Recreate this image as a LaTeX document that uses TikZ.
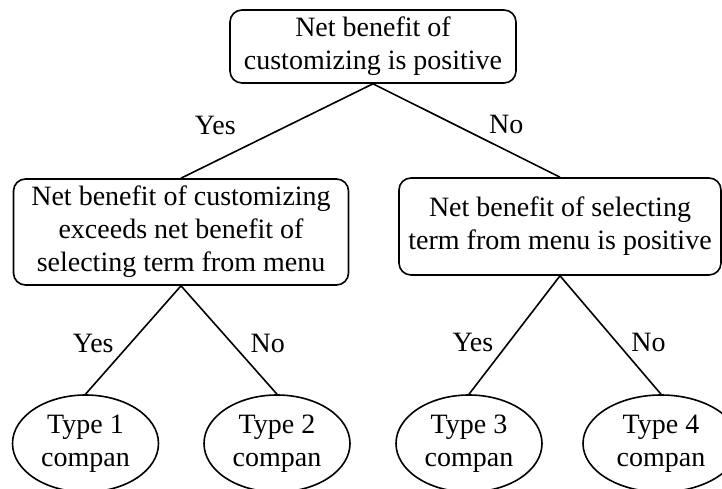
\documentclass[tikz,border=0pt]{standalone}
\usepackage{fontspec}
\setmainfont{Liberation Serif}
\usetikzlibrary{shapes.geometric, positioning}

\begin{document}
\begin{tikzpicture}[x=1pt, y=-1pt, line width=1.6pt,
    every node/.style={font=\fontsize{28}{33}\selectfont},
    decbox/.style={draw, rounded corners=12pt, align=center, inner sep=0pt},
    typeoval/.style={draw, ellipse, align=center, inner sep=0pt, minimum width=146pt, minimum height=97pt},
    answer/.style={inner sep=0pt}]
  \useasboundingbox (0,0) rectangle (722,489);
  \node[decbox, minimum width=286pt, minimum height=73pt] (root) at (373,46.5) {Net benefit of\\customizing is positive};
  \node[decbox, minimum width=335pt, minimum height=106pt] (custom) at (181,232) {Net benefit of customizing\\exceeds net benefit of\\selecting term from menu};
  \node[decbox, minimum width=322pt, minimum height=97pt] (menu) at (560,226.5) {Net benefit of selecting\\term from menu is positive};
  \node[typeoval] (type1) at (85.5,443.5) {Type 1\\compan};
  \node[typeoval] (type2) at (277,443.5) {Type 2\\compan};
  \node[typeoval] (type3) at (469,443.5) {Type 3\\compan};
  \node[typeoval, minimum width=156pt] (type4) at (661,443.5) {Type 4\\compan};
  % branches
  \draw (root.south) -- node[answer, pos=0.44, left=52pt] {Yes} (custom.north);
  \draw (root.south) -- node[answer, pos=0.44, right=33pt] {No} (menu.north);
  \draw (custom.south) -- node[answer, pos=0.53, left=16pt] {Yes} (type1.north);
  \draw (custom.south) -- node[answer, pos=0.53, right=18pt] {No} (type2.north);
  \draw (menu.south) -- node[answer, pos=0.56, left=15pt] {Yes} (type3.north);
  \draw (menu.south) -- node[answer, pos=0.56, right=14pt] {No} (type4.north);
\end{tikzpicture}
\end{document}
